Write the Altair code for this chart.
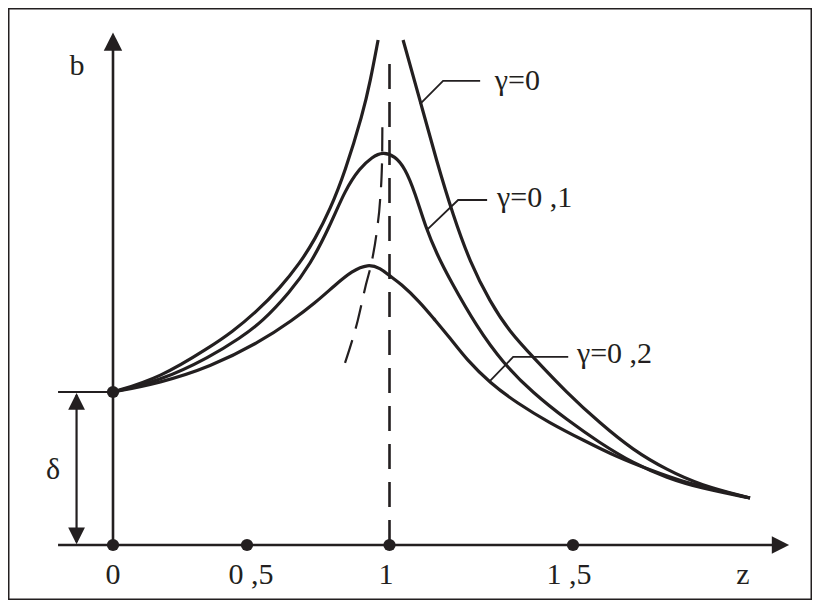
import altair as alt
import pandas as pd

INK = "#231f20"
FONT = "Liberation Sans Narrow, Liberation Serif, serif"

# ---- curve values (z = frequency ratio, b = amplitude, delta = 1) ----
g0_left_z = [0, 0.175, 0.362, 0.444, 0.532, 0.616, 0.686, 0.739, 0.791, 0.844, 0.907, 0.932, 0.960]
g0_left_b = [1.0, 1.092, 1.294, 1.392, 1.523, 1.680, 1.843, 2.000, 2.190, 2.438, 2.824, 3.026, 3.301]
g0_right_z = [1.037, 1.083, 1.129, 1.173, 1.219, 1.274, 1.328, 1.391, 1.484, 1.576, 1.669, 1.766, 1.859, 2.0]
g0_right_b = [3.301, 2.908, 2.503, 2.157, 1.850, 1.588, 1.392, 1.229, 0.993, 0.797, 0.621, 0.490, 0.392, 0.307]

g1_z = [0, 0.175, 0.362, 0.474, 0.553, 0.651, 0.721, 0.791, 0.844, 0.896, 0.939, 0.977,
        1.015, 1.042, 1.069, 1.099, 1.129, 1.165, 1.238, 1.309, 1.391, 1.484, 1.576, 1.669, 1.766, 1.859, 2.0]
g1_b = [1.0, 1.072, 1.229, 1.353, 1.458, 1.654, 1.830, 2.085, 2.320, 2.464, 2.536, 2.569,
        2.542, 2.464, 2.307, 2.072, 1.902, 1.732, 1.425, 1.190, 0.993, 0.817, 0.667, 0.536, 0.438, 0.373, 0.307]

g2_z = [0, 0.175, 0.362, 0.546, 0.661, 0.739, 0.809, 0.868, 0.925,
        0.967, 1.001, 1.029, 1.083, 1.119, 1.165, 1.211, 1.274, 1.347, 1.437, 1.528, 1.624, 1.718, 1.811, 1.907, 2.0]
g2_b = [1.0, 1.059, 1.163, 1.327, 1.471, 1.582, 1.699, 1.791, 1.837,
        1.810, 1.758, 1.712, 1.588, 1.484, 1.353, 1.209, 1.059, 0.928, 0.797, 0.686, 0.575, 0.490, 0.412, 0.359, 0.307]

# locus of maxima (dashed)
locus_z = [0.844, 0.889, 0.917, 0.939, 0.956, 0.967, 0.974, 0.975]
locus_b = [1.190, 1.471, 1.699, 1.863, 2.059, 2.255, 2.516, 2.745]

# leader lines for the gamma labels
lead_key = ["g0", "g0", "g0", "g1", "g1", "g1", "g2", "g2", "g2"]
lead_z = [1.083, 1.146, 1.247, 1.102, 1.187, 1.266, 1.274, 1.337, 1.487]
lead_b = [2.882, 3.033, 3.033, 2.059, 2.255, 2.255, 1.072, 1.229, 1.229]

gamma_text = ["γ=0", "γ=0 ,1", "γ=0 ,2"]
gamma_z = [1.287, 1.293, 1.511]
gamma_b = [2.974, 2.209, 1.190]

# axis ticks / labels
tick_z = [0, 0.5, 1, 1.5]
tick_text = ["0", "0 ,5", "1", "1 ,5", "z"]
tick_text_z = [0, 0.514, 0.988, 1.489, 1.98]
tick_text_b = -0.196

# axis & delta construction lines
rule_z = [0, -0.205, -0.205, -0.136]
rule_z2 = [0, 2.086, 0, -0.136]
rule_b = [0, 0, 1, 0.02]
rule_b2 = [3.27, 0, 1, 0.98]
rule_w = [2.6, 2.6, 2.0, 2.2]

other_text = ["b", "δ"]
other_z = [-0.134, -0.224]
other_b = [3.13, 0.49]

# ---------------------------------------------------------------
def df(zs, bs, key):
    return pd.DataFrame({"z": zs, "b": bs, "key": key})

curves = pd.concat([
    df(g0_left_z, g0_left_b, "g0L"),
    df(g0_right_z, g0_right_b, "g0R"),
    df(g1_z, g1_b, "g1"),
    df(g2_z, g2_b, "g2"),
], ignore_index=True)

xs = alt.Scale(domain=[0, 0.5, 1, 1.5, 2], range=[105, 239, 381.5, 565, 742], nice=False, zero=False)
ys = alt.Scale(domain=[0, 1], range=[537, 384], nice=False, zero=False)
X = alt.X("z:Q", scale=xs, axis=None)
Y = alt.Y("b:Q", scale=ys, axis=None)

curve_layer = alt.Chart(curves).mark_line(
    color=INK, strokeWidth=3.2, interpolate="basis"
).encode(x=X, y=Y, detail="key:N")

locus_layer = alt.Chart(df(locus_z, locus_b, "locus")).mark_line(
    color=INK, strokeWidth=2.2, strokeDash=[24, 12], interpolate="monotone"
).encode(x=X, y=Y)

vdash = alt.Chart(pd.DataFrame({"z": [1], "b": [0], "b2": [3.15]})).mark_rule(
    color=INK, strokeWidth=2.6, strokeDash=[25, 13]
).encode(x=X, y=Y, y2="b2:Q")

lead_layer = alt.Chart(pd.DataFrame({"z": lead_z, "b": lead_b, "key": lead_key})).mark_line(
    color=INK, strokeWidth=1.8
).encode(x=X, y=Y, detail="key:N")

rules = pd.DataFrame({"z": rule_z, "z2": rule_z2, "b": rule_b, "b2": rule_b2, "w": rule_w})
rule_layer = alt.Chart(rules).mark_rule(color=INK).encode(
    x=X, x2="z2:Q", y=Y, y2="b2:Q",
    strokeWidth=alt.StrokeWidth("w:Q", scale=None)
)

up = alt.Chart(pd.DataFrame({"z": [0], "b": [3.29]})).mark_point(
    shape="M0,-1L1,1L-1,1Z", filled=True, size=340, color=INK, opacity=1
).encode(x=X, y=Y)
right = alt.Chart(pd.DataFrame({"z": [2.086], "b": [0]})).mark_point(
    shape="M1,0L-1,-1L-1,1Z", filled=True, size=300, color=INK, opacity=1
).encode(x=X, y=Y)
d_up = alt.Chart(pd.DataFrame({"z": [-0.136], "b": [0.938]})).mark_point(
    shape="M0,-1L1,1L-1,1Z", filled=True, size=280, color=INK, opacity=1
).encode(x=X, y=Y)
d_down = alt.Chart(pd.DataFrame({"z": [-0.136], "b": [0.059]})).mark_point(
    shape="M0,1L1,-1L-1,-1Z", filled=True, size=280, color=INK, opacity=1
).encode(x=X, y=Y)

dots = alt.Chart(pd.DataFrame({"z": tick_z + [0], "b": [0, 0, 0, 0, 1]})).mark_circle(
    size=150, color=INK, opacity=1
).encode(x=X, y=Y)

tick_labels = alt.Chart(pd.DataFrame({"z": tick_text_z, "b": [tick_text_b] * 5, "t": tick_text})).mark_text(
    font=FONT, fontSize=30, color=INK, align="center", baseline="middle"
).encode(x=X, y=Y, text="t:N")

other_labels = alt.Chart(pd.DataFrame({"z": other_z, "b": other_b, "t": other_text})).mark_text(
    font=FONT, fontSize=30, color=INK, align="center", baseline="middle"
).encode(x=X, y=Y, text="t:N")

gamma_labels = alt.Chart(pd.DataFrame({"z": gamma_z, "b": gamma_b, "t": gamma_text})).mark_text(
    font=FONT, fontSize=30, color=INK, align="left", baseline="alphabetic"
).encode(x=X, y=Y, text="t:N")

chart = alt.layer(
    rule_layer, vdash, locus_layer, curve_layer, lead_layer,
    up, right, d_up, d_down, dots,
    tick_labels, other_labels, gamma_labels
).properties(
    width=804, height=592, padding=0, autosize=alt.AutoSizeParams(type="none"),
    background="white"
).configure_view(stroke=INK, strokeWidth=3)

chart.save("out.html", embed_options={"renderer": "svg", "actions": False})
